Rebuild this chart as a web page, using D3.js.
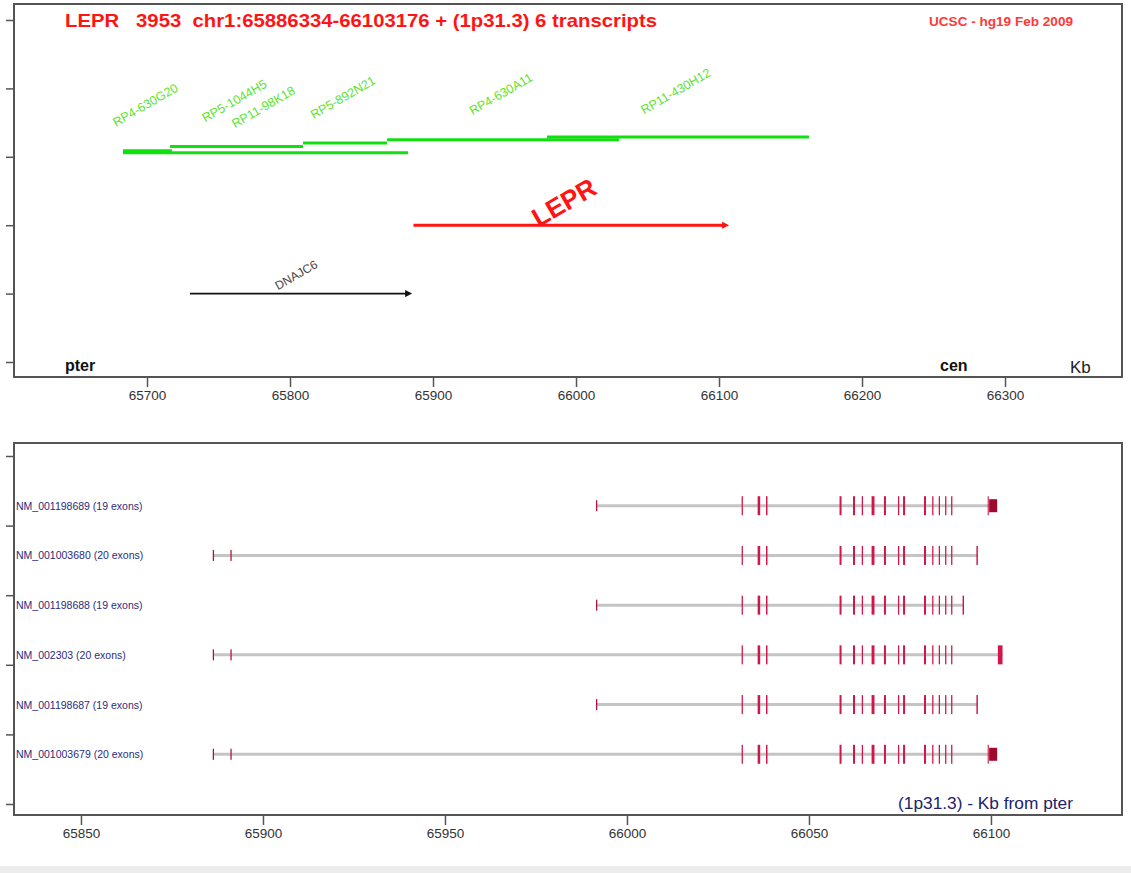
<!DOCTYPE html>
<html>
<head>
<meta charset="utf-8">
<script src="https://cdn.jsdelivr.net/npm/d3@7/dist/d3.min.js"></script>
<style>
  body { margin: 0; background: #fff; }
  text { font-family: 'Liberation Sans', Arial, sans-serif; white-space: pre; }
</style>
</head>
<body>
<script>
// ---- top panel data (Kb from pter) ----
const topTicks = [65700, 65800, 65900, 66000, 66100, 66200, 66300]
const topLevels = [0, 1, 2, 3, 4, 5]

const clones = ['RP4-630G20', 'RP5-1044H5', 'RP11-98K18', 'RP5-892N21', 'RP4-630A11', 'RP11-430H12']
const cloneStart = [65683.2, 65716.1, 65683.2, 65809.1, 65867.8, 65979.7]
const cloneEnd = [65717.5, 65809.1, 65882.5, 65867.8, 66030.1, 66162.9]
const cloneLevel = [3.09, 3.15, 3.06, 3.2, 3.25, 3.29]

const genes = ['DNAJC6', 'LEPR']
const geneStart = [65730.0, 65886.334]
const geneEnd = [65881.5, 66103.176]
const geneLevel = [1, 2]

// ---- bottom panel data: LEPR transcripts ----
const bottomTicks = [65850, 65900, 65950, 66000, 66050, 66100]
const bottomLevels = [0, 1.4, 2.8, 4.2, 5.6, 7]

const transcripts = [
  'NM_001198689 (19 exons)',
  'NM_001003680 (20 exons)',
  'NM_001198688 (19 exons)',
  'NM_002303 (20 exons)',
  'NM_001198687 (19 exons)',
  'NM_001003679 (20 exons)'
]
const txStart = [65991.68, 65886.334, 65991.68, 65886.334, 65991.68, 65886.334]
const txEnd = [66101.7, 66096.3, 66092.5, 66103.176, 66096.3, 66101.7]

// exons as [start, end, kind]
const leadExons = [
  [[65991.5, 65991.85, 'utr']],
  [[65886.2, 65886.55, 'utr'], [65891.05, 65891.4, 'utr']],
  [[65991.5, 65991.85, 'utr']],
  [[65886.2, 65886.55, 'utr'], [65891.05, 65891.4, 'utr']],
  [[65991.5, 65991.85, 'utr']],
  [[65886.2, 65886.55, 'utr'], [65891.05, 65891.4, 'utr']]
]
const sharedExons = [
  [66031.5, 66031.85], [66035.9, 66036.6], [66038.2, 66038.6],
  [66058.4, 66058.95], [66062.1, 66062.65], [66064.5, 66064.85],
  [66067.2, 66068.0], [66070.6, 66071.15], [66074.45, 66074.8],
  [66075.85, 66076.4], [66081.6, 66082.15], [66083.85, 66084.2],
  [66085.65, 66086.0], [66087.4, 66087.75], [66089.05, 66089.4]
]
const tailExons = [
  [[66099.1, 66099.4, 'cds'], [66099.5, 66101.7, 'block']],
  [[66096.0, 66096.4, 'cds']],
  [[66092.2, 66092.6, 'cds']],
  [[66101.9, 66103.176, 'cds']],
  [[66096.0, 66096.4, 'cds']],
  [[66099.1, 66099.4, 'cds'], [66099.5, 66101.7, 'block']]
]

const W = 1131
const H = 873
const left = 14
const right = 1122

const svg = d3
  .select('body')
  .append('svg')
  .attr('width', W)
  .attr('height', H)

const defs = svg.append('defs')
function marker(id, color) {
  defs
    .append('marker')
    .attr('id', id)
    .attr('markerUnits', 'userSpaceOnUse')
    .attr('viewBox', '0 0 10 10')
    .attr('refX', 2)
    .attr('refY', 5)
    .attr('markerWidth', 8)
    .attr('markerHeight', 7)
    .attr('orient', 'auto')
    .append('path')
    .attr('d', 'M0,0 L10,5 L0,10 z')
    .attr('fill', color)
}
marker('arrow-red', '#ff1414')
marker('arrow-black', '#111')

// ================= TOP PANEL =================
const topBox = { top: 4, bottom: 377 }
const xTop = d3.scaleLinear().domain([65607, 66381.8]).range([left, right])
const yTop = d3.scaleLinear().domain([0, 5]).range([362, 20])

const topG = svg.append('g')

topG
  .append('rect')
  .attr('x', left)
  .attr('y', topBox.top)
  .attr('width', right - left)
  .attr('height', topBox.bottom - topBox.top)
  .attr('fill', 'none')
  .attr('stroke', '#555')
  .attr('stroke-width', 2)

topG
  .append('g')
  .attr('transform', 'translate(' + left + ',0)')
  .call(d3.axisLeft(yTop).tickValues(topLevels).tickFormat('').tickSize(8).tickSizeOuter(0))
  .call(g => g.select('.domain').remove())
  .call(g => g.selectAll('line').attr('stroke', '#555').attr('stroke-width', 1.5))

const xAxisTop = d3
  .axisBottom(xTop)
  .tickValues(topTicks)
  .tickFormat(d3.format('d'))
  .tickSize(10)
  .tickPadding(3)
topG
  .append('g')
  .attr('transform', 'translate(0,' + topBox.bottom + ')')
  .call(xAxisTop)
  .call(g => g.select('.domain').remove())
  .call(g => g.selectAll('line').attr('stroke', '#555').attr('stroke-width', 1.5))
  .call(g => g.selectAll('text').attr('font-size', 13.5).attr('fill', '#333').attr('font-family', 'Liberation Sans, Arial, sans-serif'))

// clones
topG
  .selectAll('.clone')
  .data(clones)
  .enter()
  .append('line')
  .attr('class', 'clone')
  .attr('x1', (d, i) => xTop(cloneStart[i]))
  .attr('x2', (d, i) => xTop(cloneEnd[i]))
  .attr('y1', (d, i) => yTop(cloneLevel[i]))
  .attr('y2', (d, i) => yTop(cloneLevel[i]))
  .attr('stroke', '#10e010')
  .attr('stroke-width', 3)

topG
  .selectAll('.clone-label')
  .data(clones)
  .enter()
  .append('text')
  .attr('class', 'clone-label')
  .text(d => d)
  .attr('text-anchor', 'middle')
  .attr('font-size', 12.5)
  .attr('fill', '#5ee22e')
  .attr('transform', (d, i) => {
    const x = xTop((cloneStart[i] + cloneEnd[i]) / 2)
    const y = yTop(cloneLevel[i]) - 42
    return 'translate(' + x + ',' + y + ') rotate(-30)'
  })

// genes
const geneColor = ['#111', '#ff1414']
const geneMarker = ['url(#arrow-black)', 'url(#arrow-red)']
topG
  .selectAll('.gene')
  .data(genes)
  .enter()
  .append('line')
  .attr('class', 'gene')
  .attr('x1', (d, i) => xTop(geneStart[i]))
  .attr('x2', (d, i) => xTop(geneEnd[i]))
  .attr('y1', (d, i) => yTop(geneLevel[i]))
  .attr('y2', (d, i) => yTop(geneLevel[i]))
  .attr('stroke', (d, i) => geneColor[i])
  .attr('stroke-width', (d, i) => (i === 1 ? 3 : 1.6))
  .attr('marker-end', (d, i) => geneMarker[i])

topG
  .selectAll('.gene-label')
  .data(genes)
  .enter()
  .append('text')
  .attr('class', 'gene-label')
  .text(d => d)
  .attr('text-anchor', 'middle')
  .attr('font-size', (d, i) => (i === 1 ? 26 : 12))
  .attr('font-weight', (d, i) => (i === 1 ? 'bold' : 'normal'))
  .attr('fill', (d, i) => (i === 1 ? '#ff1414' : '#444'))
  .attr('transform', (d, i) => {
    const x = xTop((geneStart[i] + geneEnd[i]) / 2)
    const y = yTop(geneLevel[i]) - (i === 1 ? 15 : 15)
    return 'translate(' + x + ',' + y + ') rotate(-30)'
  })

topG
  .append('text')
  .text('LEPR   3953  chr1:65886334-66103176 + (1p31.3) 6 transcripts')
  .attr('x', 65)
  .attr('y', 27)
  .attr('font-size', 19)
  .attr('font-weight', 'bold')
  .attr('fill', '#ff1414')
  .attr('textLength', 592)
  .attr('lengthAdjust', 'spacingAndGlyphs')

topG
  .append('text')
  .text('UCSC - hg19 Feb 2009')
  .attr('x', 929)
  .attr('y', 26)
  .attr('font-size', 12)
  .attr('font-weight', 'bold')
  .attr('fill', '#ff3838')
  .attr('textLength', 144)
  .attr('lengthAdjust', 'spacingAndGlyphs')

topG
  .append('text')
  .text('pter')
  .attr('x', 65)
  .attr('y', 371)
  .attr('font-size', 16)
  .attr('font-weight', 'bold')
  .attr('fill', '#111')

topG
  .append('text')
  .text('cen')
  .attr('x', 940)
  .attr('y', 371)
  .attr('font-size', 16)
  .attr('font-weight', 'bold')
  .attr('fill', '#111')

topG
  .append('text')
  .text('Kb')
  .attr('x', 1070)
  .attr('y', 373)
  .attr('font-size', 17)
  .attr('fill', '#222')

// ================= BOTTOM PANEL =================
const botBox = { top: 443, bottom: 815 }
const xBot = d3.scaleLinear().domain([65831.6, 66136]).range([left, right])
const yBot = d3.scaleLinear().domain([0, 7]).range([804, 456])

const botG = svg.append('g')

botG
  .append('rect')
  .attr('x', left)
  .attr('y', botBox.top)
  .attr('width', right - left)
  .attr('height', botBox.bottom - botBox.top)
  .attr('fill', 'none')
  .attr('stroke', '#555')
  .attr('stroke-width', 2)

botG
  .append('g')
  .attr('transform', 'translate(' + left + ',0)')
  .call(d3.axisLeft(yBot).tickValues(bottomLevels).tickFormat('').tickSize(8).tickSizeOuter(0))
  .call(g => g.select('.domain').remove())
  .call(g => g.selectAll('line').attr('stroke', '#555').attr('stroke-width', 1.5))

botG
  .append('g')
  .attr('transform', 'translate(0,' + botBox.bottom + ')')
  .call(d3.axisBottom(xBot).tickValues(bottomTicks).tickFormat(d3.format('d')).tickSize(10).tickPadding(3))
  .call(g => g.select('.domain').remove())
  .call(g => g.selectAll('line').attr('stroke', '#555').attr('stroke-width', 1.5))
  .call(g => g.selectAll('text').attr('font-size', 13.5).attr('fill', '#333').attr('font-family', 'Liberation Sans, Arial, sans-serif'))

const rows = botG
  .selectAll('.tx')
  .data(transcripts)
  .enter()
  .append('g')
  .attr('class', 'tx')
  .attr('transform', (d, i) => 'translate(0,' + yBot(6 - i) + ')')

rows
  .append('line')
  .attr('x1', (d, i) => xBot(txStart[i]))
  .attr('x2', (d, i) => xBot(txEnd[i]))
  .attr('stroke', '#c4c4c4')
  .attr('stroke-width', 3)

rows
  .append('text')
  .text(d => d)
  .attr('x', 16)
  .attr('y', 4)
  .attr('font-size', 10.5)
  .attr('fill', '#2b2b80')

const exonH = { utr: 11, cds: 19, block: 13 }
const exonColor = { utr: '#b0123a', cds: '#d0164a', block: '#9e0a2c' }

rows.each(function(d, i) {
  const ex = leadExons[i]
    .concat(sharedExons.map(e => [e[0], e[1], 'cds']))
    .concat(tailExons[i])
  d3.select(this)
    .selectAll('rect')
    .data(ex)
    .enter()
    .append('rect')
    .attr('x', e => xBot(e[0]))
    .attr('width', e => Math.max(1, xBot(e[1]) - xBot(e[0])))
    .attr('y', e => -exonH[e[2]] / 2)
    .attr('height', e => exonH[e[2]])
    .attr('fill', e => exonColor[e[2]])
})

botG
  .append('text')
  .text('(1p31.3) - Kb from pter')
  .attr('x', 898)
  .attr('y', 809)
  .attr('font-size', 16)
  .attr('fill', '#22226a')
  .attr('textLength', 175)
  .attr('lengthAdjust', 'spacingAndGlyphs')

// faint band at the very bottom of the picture
svg
  .append('rect')
  .attr('x', 0)
  .attr('y', 866)
  .attr('width', W)
  .attr('height', H - 866)
  .attr('fill', '#ececec')
</script>
</body>
</html>
